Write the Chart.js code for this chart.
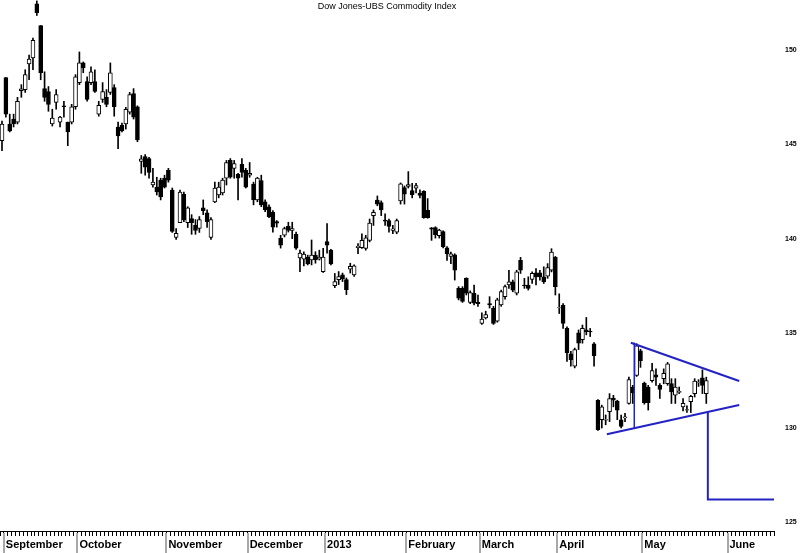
<!DOCTYPE html>
<html lang="en">
<head>
  <meta charset="UTF-8" />
  <title>Dow Jones-UBS Commodity Index</title>
  <script src="https://cdn.jsdelivr.net/npm/chart.js"></script>
  <style>
    body { margin: 0; background: #fff; }
    #wrap { position: relative; width: 800px; height: 553px; }
    #title {
      position: absolute; left: 0; top: 0; width: 774px; text-align: center;
      font: 9px "Liberation Sans", Arial, sans-serif; line-height: 12px; color: #000;
    }
  </style>
</head>
<body>
  <div id="wrap">
    <canvas id="chart" width="800" height="553"></canvas>
    <div id="title">Dow Jones-UBS Commodity Index</div>
  </div>

  <script>
    // months on the time axis (first slot is 31 Aug), trading days per month
    const monthNames = ['', 'September', 'October', 'November', 'December', '2013', 'February', 'March', 'April', 'May', 'June'];
    const monthDays = [1, 19, 23, 21, 20, 21, 19, 20, 22, 22, 12];

    const yTicks = [125, 130, 135, 140, 145, 150];

    // daily bars
    const open = [
      145.2, 148.54, 146.09, 146.35, 146.19, 147.85, 147.91, 149.27, 149.58, 152.45,
      151.3, 147.96, 147.81, 146.09, 147.23, 146.19, 147.05, 146.19, 146.19, 147.0,
      148.28, 149.32, 148.33, 148.28, 148.33, 146.61, 147.39, 147.5, 147.76, 148.02,
      145.93, 146.03, 146.09, 146.71, 147.7, 147.0,
      144.11, 144.37, 144.26, 142.86, 142.75, 143.12, 143.22, 143.64, 142.59, 140.09,
      140.87, 142.38, 140.87, 141.08, 140.72, 140.56, 141.65, 141.39, 140.09, 141.97,
      142.33, 142.44, 143.22, 144.16, 143.74, 143.43, 143.95, 143.64, 143.38, 142.91,
      142.07, 143.1, 141.97, 141.71,
      141.41, 140.93, 140.04, 140.2, 140.67, 140.46, 140.25, 139.0, 138.94, 139.05,
      138.89, 139.15, 138.94, 138.28, 139.87, 139.41, 137.53, 137.85, 138.1, 137.85,
      138.41, 138.1, 139.55, 139.55, 139.5, 139.93, 141.24, 142.06, 141.93, 141.0,
      140.98, 140.46, 140.37, 142.02, 142.72,
      142.79, 142.56, 142.69, 142.43, 142.52, 141.52, 140.59, 140.61, 140.18, 140.4,
      139.53, 139.08, 139.17, 137.39, 137.39, 137.92, 136.65, 137.13, 136.65, 135.53,
      135.83, 136.58, 136.33, 135.65, 136.52, 136.95, 137.57, 137.73, 137.13, 138.87,
      137.57, 137.57, 137.86, 138.21, 138.21, 138.0, 138.04, 138.35, 139.03,
      136.35, 136.49, 135.27, 133.93, 133.27, 135.04, 134.67, 135.19, 135.12, 134.45,
      131.47, 130.44, 130.42, 130.86, 131.59, 131.42, 130.43, 130.54, 131.3, 132.17,
      132.78, 134.08, 132.38, 132.17, 132.51, 132.82, 132.26, 132.61, 132.35, 132.35,
      131.74, 131.89, 131.12, 130.94, 131.39, 131.82, 132.39, 132.66, 131.82
    ];
    const high = [
      146.24, 148.54, 146.61, 146.61, 147.5, 148.17, 148.96, 149.74, 150.63, 152.6,
      151.3, 148.85, 148.07, 146.87, 147.91, 146.5, 147.29, 146.19, 147.13, 148.7,
      149.9, 149.37, 148.59, 149.11, 148.96, 147.29, 148.28, 147.91, 149.32, 148.17,
      146.19, 146.14, 146.97, 147.76, 147.96, 147.05,
      144.42, 144.47, 144.32, 143.74, 143.27, 143.22, 143.38, 143.74, 142.7, 140.56,
      142.59, 142.49, 141.71, 141.29, 141.03, 141.19, 142.07, 141.55, 141.13, 143.01,
      143.01, 143.22, 144.16, 144.26, 144.16, 143.48, 144.26, 143.74, 144.05, 143.01,
      143.27, 143.38, 142.07, 141.81,
      141.5, 140.98, 140.2, 140.63, 140.89, 140.89, 140.37, 139.41, 139.33, 139.15,
      139.95, 139.33, 139.41, 139.51, 140.82, 139.45, 138.18, 138.28, 138.2, 137.94,
      138.72, 138.63, 139.76, 140.28, 140.2, 141.06, 141.54, 142.28, 142.02, 141.33,
      141.06, 140.72, 141.06, 142.97, 142.81,
      143.57, 142.95, 142.95, 142.61, 142.56, 142.14, 140.61, 140.65, 140.52, 140.44,
      139.6, 139.31, 139.22, 137.48, 137.48, 137.95, 137.26, 137.56, 137.04, 136.09,
      136.18, 136.95, 136.44, 136.87, 137.3, 137.56, 138.35, 137.83, 138.35, 139.03,
      137.92, 138.0, 138.26, 138.44, 138.35, 138.53, 138.7, 139.49, 139.08,
      137.1, 136.58, 135.36, 134.06, 134.23, 135.19, 135.45, 135.85, 135.27, 134.52,
      131.51, 131.21, 130.69, 131.82, 131.73, 131.47, 130.69, 130.78, 132.69, 132.26,
      134.46, 134.17, 132.43, 132.26, 133.42, 133.13, 132.35, 133.13, 133.47, 132.61,
      132.61, 132.17, 131.56, 131.17, 131.73, 132.61, 132.56, 133.08, 132.69
    ];
    const low = [
      144.68, 146.45, 145.67, 145.93, 146.09, 147.5, 147.76, 148.43, 148.96, 151.83,
      148.43, 147.29, 146.76, 145.98, 146.87, 145.93, 146.45, 144.94, 146.09, 146.87,
      148.17, 148.8, 147.29, 148.17, 147.76, 146.5, 147.23, 147.0, 147.65, 146.5,
      144.78, 145.67, 145.82, 146.61, 146.35, 145.15,
      143.48, 143.38, 143.22, 142.75, 142.33, 142.07, 142.7, 143.01, 140.35, 139.98,
      140.87, 140.92, 140.61, 140.25, 140.25, 140.35, 141.29, 140.61, 139.98, 141.92,
      142.18, 142.33, 142.86, 143.22, 143.22, 142.07, 143.27, 142.7, 143.27, 141.81,
      141.97, 141.71, 141.45, 141.13,
      140.37, 140.63, 139.52, 140.11, 140.37, 140.02, 139.45, 138.28, 138.58, 138.63,
      138.63, 138.72, 138.89, 138.23, 139.25, 138.63, 137.43, 137.59, 137.75, 137.06,
      138.2, 138.02, 139.23, 139.5, 139.41, 139.85, 140.72, 141.76, 141.24, 140.72,
      140.37, 140.28, 140.28, 141.85, 141.85,
      142.7, 142.18, 142.44, 142.18, 141.1, 141.1, 139.93, 140.05, 140.05, 139.53,
      138.87, 138.7, 137.83, 136.78, 136.65, 137.04, 136.58, 136.52, 136.44, 135.48,
      135.77, 136.35, 135.48, 135.6, 136.44, 136.82, 137.39, 137.21, 137.04, 138.18,
      137.39, 137.3, 137.65, 137.57, 137.83, 137.65, 137.92, 138.26, 137.04,
      136.06, 135.27, 133.53, 133.27, 133.18, 134.15, 134.49, 134.93, 134.84, 133.27,
      129.87, 130.0, 130.17, 130.34, 131.12, 130.44, 130.0, 130.34, 131.26, 131.3,
      132.73, 133.21, 131.26, 130.95, 132.43, 132.26, 131.56, 132.34, 132.26, 131.3,
      131.3, 131.82, 130.91, 130.82, 130.82, 131.64, 132.2, 131.82, 131.3
    ];
    const close = [
      146.09, 146.61, 145.72, 146.09, 147.29, 147.95, 148.7, 149.53, 150.52, 151.98,
      148.8, 147.5, 147.13, 146.4, 147.65, 146.45, 147.0, 145.67, 147.0, 148.59,
      149.32, 149.06, 147.39, 148.85, 147.81, 147.08, 147.81, 147.13, 148.8, 147.0,
      145.46, 145.72, 146.87, 147.65, 146.45, 145.25,
      144.25, 143.8, 143.53, 143.01, 142.49, 142.23, 142.75, 143.12, 140.4, 140.3,
      142.49, 141.03, 141.65, 140.87, 140.45, 141.03, 141.5, 140.92, 141.03, 142.7,
      142.75, 143.12, 144.05, 143.27, 144.0, 143.22, 143.53, 142.75, 143.48, 142.07,
      143.22, 141.81, 141.55, 141.19,
      140.63, 140.84, 139.67, 140.56, 140.46, 140.56, 139.52, 139.26, 139.21, 138.68,
      139.15, 138.89, 139.05, 139.05, 139.67, 138.68, 137.75, 138.02, 137.89, 137.32,
      138.55, 138.58, 139.62, 139.93, 140.07, 140.84, 141.41, 141.85, 141.54, 140.95,
      140.67, 140.54, 140.98, 142.92, 142.37,
      142.88, 142.35, 142.83, 142.31, 141.13, 141.13, 140.52, 140.23, 140.47, 139.6,
      139.22, 139.22, 138.35, 136.87, 136.7, 137.13, 137.17, 136.61, 136.58, 135.77,
      136.0, 136.52, 135.53, 136.78, 137.22, 137.48, 137.73, 137.3, 138.26, 138.35,
      137.53, 137.39, 138.18, 138.0, 138.0, 137.73, 138.49, 139.31, 137.48,
      136.37, 135.53, 133.97, 133.62, 134.15, 134.49, 135.27, 135.1, 135.08, 133.83,
      129.91, 131.12, 130.45, 131.56, 131.47, 130.95, 130.08, 130.59, 132.56, 131.86,
      134.35, 133.56, 131.34, 131.34, 133.04, 132.69, 132.04, 132.9, 133.39, 131.91,
      132.17, 131.94, 131.3, 130.97, 131.68, 132.48, 132.43, 132.26, 132.51
    ];

    // hand-drawn triangle and target, in (bar index, index value)
    const upperLine = [[162.5, 134.51], [190.5, 132.49]];
    const lowerLine = [[156.3, 129.67], [190.5, 131.22]];
    const heightLine = [[163.4, 134.51], [163.4, 130.0]];
    const targetLine = [[182.4, 130.86], [182.4, 126.22], [199.5, 126.22]];

    const labels = [];
    const monthStart = {};
    monthNames.forEach((m, k) => {
      monthStart[labels.length] = m;
      for (let d = 0; d < monthDays[k]; d++) labels.push(m + ' ' + (d + 1));
    });
    const startIdx = Object.keys(monthStart).map(Number).filter(i => i > 0);

    const bodies = open.map((o, i) => [o, close[i]]);
    const wicks = low.map((l, i) => [l, high[i]]);
    const bodyColors = open.map((o, i) => close[i] >= o ? '#ffffff' : '#000000');

    const blue = '#2323c3';
    function lineSet(points, width) {
      return {
        type: 'line', xAxisID: 'x2', order: 0,
        data: points.map(p => ({ x: p[0], y: p[1] })),
        borderColor: blue, borderWidth: width, pointRadius: 0, fill: false, tension: 0
      };
    }

    const separators = {
      id: 'separators',
      afterDraw(chart) {
        const xs = chart.scales.x;
        const ctx = chart.ctx;
        ctx.save();
        ctx.strokeStyle = '#a8a8a8';
        ctx.lineWidth = 2;
        startIdx.forEach(i => {
          const x = Math.round((xs.getPixelForValue(i - 1) + xs.getPixelForValue(i)) / 2);
          ctx.beginPath();
          ctx.moveTo(x, chart.chartArea.bottom + 2);
          ctx.lineTo(x, chart.height);
          ctx.stroke();
        });
        ctx.restore();
      }
    };

    new Chart(document.getElementById('chart'), {
      type: 'bar',
      data: {
        labels: labels,
        datasets: [
          lineSet(upperLine, 2),
          lineSet(lowerLine, 2),
          lineSet(heightLine, 1),
          lineSet(targetLine, 2),
          {
            data: bodies, order: 1, grouped: false, barThickness: 4,
            backgroundColor: bodyColors, borderColor: '#000', borderWidth: 1, borderSkipped: false
          },
          {
            data: wicks, order: 2, grouped: false, barThickness: 1,
            backgroundColor: '#000', borderWidth: 0
          }
        ]
      },
      options: {
        responsive: false,
        animation: false,
        layout: { padding: 0 },
        plugins: { legend: { display: false }, tooltip: { enabled: false }, title: { display: false } },
        scales: {
          x: {
            type: 'category',
            grid: { display: true, drawOnChartArea: false, drawTicks: true, tickLength: 5, color: '#000' },
            border: { display: true, color: '#000' },
            ticks: {
              autoSkip: false, maxRotation: 0, minRotation: 0, align: 'start', padding: 2,
              color: '#000', font: { family: 'Liberation Sans', size: 11, weight: 'bold' },
              callback: (v, i) => monthStart[i] || ''
            },
            afterFit: s => { s.height = 22; }
          },
          x2: {
            type: 'linear', display: false, offset: false, grid: { offset: false },
            min: -0.5, max: 199.5
          },
          y: {
            position: 'right', min: 124.55, max: 152.65,
            grid: { display: false, drawTicks: false },
            border: { display: false },
            afterBuildTicks: s => { s.ticks = yTicks.map(v => ({ value: v })); },
            ticks: { padding: 11, color: '#000', font: { family: 'Liberation Sans', size: 7, weight: 'bold' } },
            afterFit: s => { s.width = 26; s.paddingTop = 0; s.paddingBottom = 0; }
          }
        }
      },
      plugins: [separators]
    });
  </script>
</body>
</html>
